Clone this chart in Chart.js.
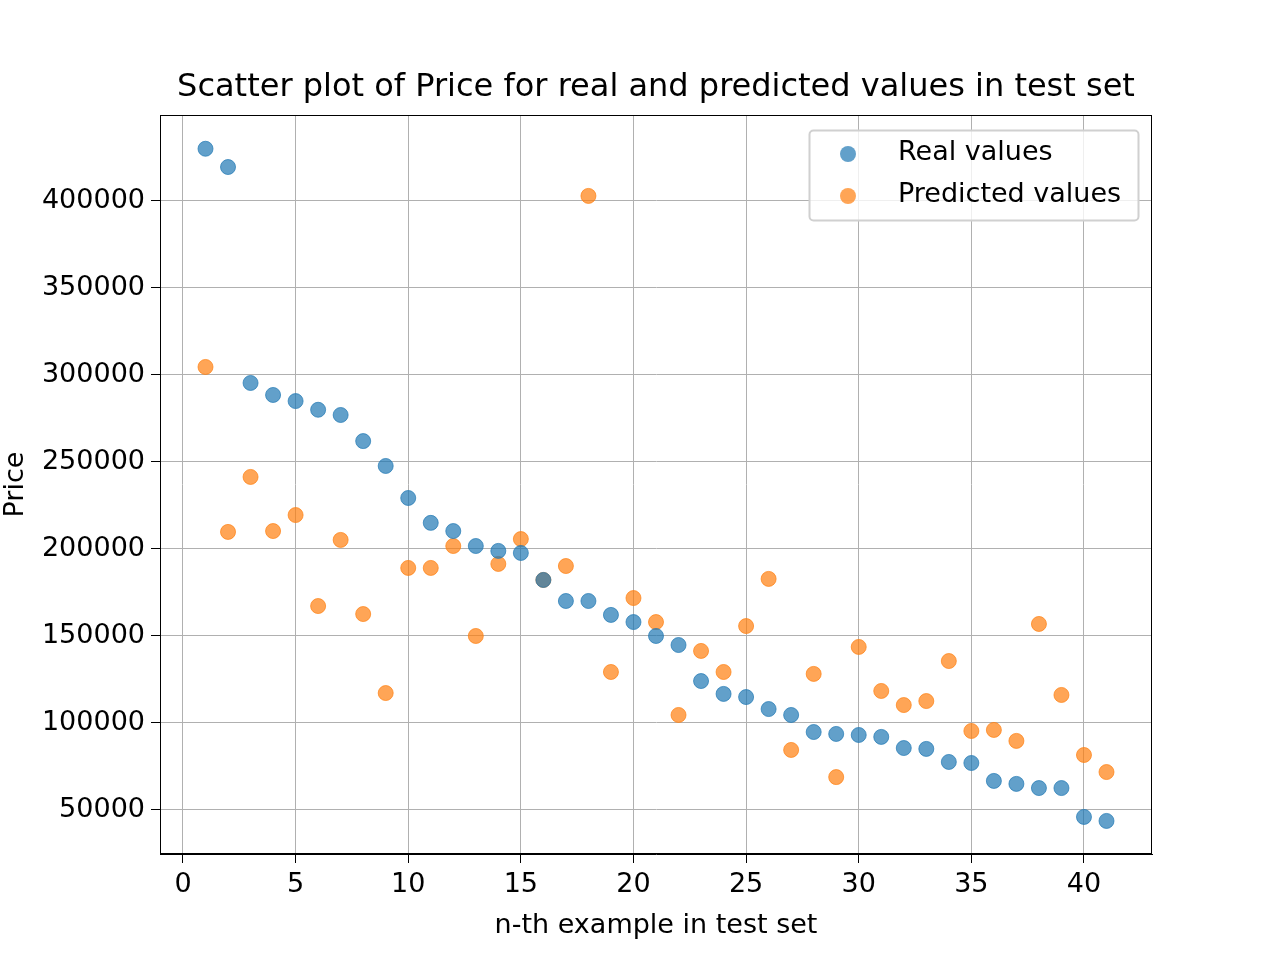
<!DOCTYPE html>
<html>
<head>
<meta charset="utf-8">
<script src="https://cdn.jsdelivr.net/npm/chart.js@4/dist/chart.umd.min.js"></script>
<style>body{margin:0;background:#fff}</style>
</head>
<body>
<canvas id="myChart" width="1280" height="960"></canvas>
<script>
// n-th example in test set
const examples = [1,2,3,4,5,6,7,8,9,10,11,12,13,14,15,16,17,18,19,20,21,22,23,24,25,26,27,28,29,30,31,32,33,34,35,36,37,38,39,40,41];
const realValues = [430000,419500,295400,288500,285000,280000,277000,262000,247700,229300,215000,210300,201700,198900,197700,182200,170100,170100,162100,158000,150000,144800,124100,116700,114900,108000,104600,94800,93700,93100,92000,85600,85100,77600,77000,66700,65000,62600,62600,46000,43700];
const predictedValues = [304600,209800,241400,210300,219500,167200,205200,162600,117200,189100,189100,201700,150000,191400,205700,182200,190200,402900,129300,171800,158000,104600,141400,129300,155700,182800,84500,128200,68900,143700,118400,110300,112600,135600,95400,96000,89700,156900,116100,81600,71800];
const xTicks = [0,5,10,15,20,25,30,35,40];
const yTicks = [50000,100000,150000,200000,250000,300000,350000,400000];

const blue = 'rgba(31,119,180,0.7)';
const orange = 'rgba(255,127,14,0.7)';
const font = "'DejaVu Sans', sans-serif";

const pts = vals => examples.map((x, i) => ({x: x, y: vals[i]}));

const extras = {
    id: 'extras',
    afterDraw(chart) {
        const c = chart.ctx, a = chart.chartArea;
        c.save();
        c.strokeStyle = 'black';
        c.lineWidth = 1;
        c.strokeRect(a.left + 0.5, a.top + 0.5, a.right - a.left - 1, a.bottom - a.top - 1);
        c.fillStyle = 'black';
        c.font = "32px " + font;
        c.textAlign = 'center';
        c.textBaseline = 'middle';
        c.fillText('Scatter plot of Price for real and predicted values in test set', (a.left + a.right) / 2, 88);
        // legend
        c.fillStyle = 'rgba(255,255,255,0.8)';
        c.strokeStyle = '#d0d0d0';
        c.lineWidth = 2;
        c.beginPath();
        c.roundRect(809.5, 130.5, 329, 90, 4);
        c.fill();
        c.stroke();
        const items = [['Real values', blue, 154], ['Predicted values', orange, 196]];
        c.font = "27px " + font;
        c.textAlign = 'left';
        items.forEach(([t, col, y]) => {
            c.fillStyle = col;
            c.beginPath();
            c.arc(848, y, 8, 0, Math.PI * 2);
            c.fill();
            c.fillStyle = 'black';
            c.fillText(t, 898, y - 1);
        });
        c.restore();
    }
};

new Chart(document.getElementById('myChart').getContext('2d'), {
    type: 'scatter',
    data: {
        datasets: [
            {label: 'Real values', data: pts(realValues), backgroundColor: blue, borderColor: blue, borderWidth: 1, pointRadius: 7.5, pointHoverRadius: 7.5},
            {label: 'Predicted values', data: pts(predictedValues), backgroundColor: orange, borderColor: orange, borderWidth: 1, pointRadius: 7.5, pointHoverRadius: 7.5}
        ]
    },
    options: {
        responsive: false,
        devicePixelRatio: 1,
        animation: false,
        layout: {padding: {top: 115, right: 128, left: 0, bottom: 18}},
        plugins: {legend: {display: false}, title: {display: false}, tooltip: {enabled: false}},
        scales: {
            x: {
                type: 'linear', min: -1.02, max: 43.02,
                afterBuildTicks: s => { s.ticks = xTicks.map(v => ({value: v})); },
                afterFit: s => { s.height = 88; },
                grid: {color: '#b0b0b0', tickColor: 'black', tickLength: 9},
                border: {color: 'black'},
                ticks: {color: 'black', font: {family: font, size: 27}, maxRotation: 0, padding: 6},
                title: {display: true, text: 'n-th example in test set', color: 'black', font: {family: font, size: 27}, padding: {top: 0, bottom: 0}}
            },
            y: {
                min: 24700, max: 449400,
                afterBuildTicks: s => { s.ticks = yTicks.map(v => ({value: v})); },
                afterFit: s => { s.width = 160; },
                grid: {color: '#b0b0b0', tickColor: 'black', tickLength: 9},
                border: {color: 'black'},
                ticks: {color: 'black', font: {family: font, size: 27}, padding: 6, callback: v => String(v)},
                title: {display: true, text: 'Price', color: 'black', font: {family: font, size: 27}, padding: {top: 0, bottom: 0}}
            }
        }
    },
    plugins: [extras]
});
</script>
</body>
</html>
